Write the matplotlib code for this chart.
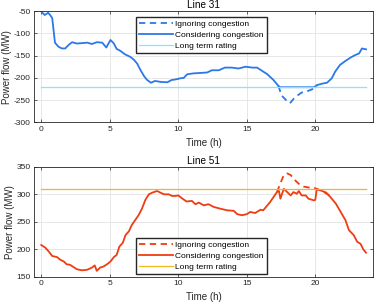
import matplotlib
matplotlib.use("Agg")
import matplotlib.pyplot as plt

plt.rcParams['font.family'] = ['Liberation Sans', 'DejaVu Sans']
plt.rcParams['axes.unicode_minus'] = False

# Line 31 (MW)
t31 = [0, 0.25, 0.5, 0.65, 0.8, 1.0, 1.25, 1.5, 1.75, 2.0, 2.25, 2.6, 3.0, 3.35, 3.7,
       4.05, 4.45, 4.75, 4.85, 5.05, 5.3, 5.5, 5.75, 6.1, 6.5, 6.75, 7.0, 7.25, 7.5, 7.7,
       8.0, 8.3, 8.7, 9.2, 9.5, 9.9, 10.15, 10.4, 10.65, 11.1, 11.6, 12.1, 12.45, 12.95, 13.4,
       13.9, 14.4, 14.9, 15.4, 15.75, 16.1, 16.5, 16.95, 17.3, 17.45, 19.9, 20.15, 20.5, 20.85, 21.2,
       21.45, 21.8, 22.2, 22.6, 22.9, 23.2, 23.4, 23.7]
cons31 = [-51, -59, -54, -59, -66, -121, -130, -134, -134, -126, -120, -123, -122, -121, -124,
          -120, -121, -132, -126, -115, -123, -135, -139, -147, -153, -159, -168, -183, -196, -204,
          -211, -207, -209, -210, -205, -203, -201, -200, -192, -190, -189, -188, -183, -183, -177,
          -177, -179, -175, -177, -177, -184, -192, -205, -218, -221, -221, -216, -213, -211, -201,
          -186, -171, -162, -154, -149, -145, -134, -136]
t31_ign = [17.3, 17.55, 17.9, 18.15, 18.5, 19.0, 19.5, 19.9, 20.15]
ign31 = [-218, -240, -251, -257, -244, -233, -229, -224, -216]
rating31 = -220

# Line 51 (MW)
t51 = [0, 0.3, 0.55, 0.8, 1.15, 1.4, 1.65, 1.85, 2.1, 2.35, 2.6, 2.95, 3.35, 3.7, 3.9,
       4.05, 4.3, 4.55, 4.8, 5.05, 5.3, 5.5, 5.7, 5.95, 6.15, 6.4, 6.6, 6.85, 7.1, 7.35,
       7.6, 7.85, 8.1, 8.45, 8.7, 8.95, 9.3, 9.55, 9.8, 10.0, 10.25, 10.6, 11.0, 11.25, 11.5,
       11.85, 12.2, 12.6, 13.05, 13.55, 14.05, 14.3, 14.65, 15.0, 15.25, 15.6, 16.0, 16.2, 16.5, 16.7,
       16.95, 17.2, 17.35, 17.45, 17.7, 17.95, 18.2, 18.4, 18.65, 18.8, 19.0, 19.3, 19.5, 19.9, 20.0,
       20.1, 20.4, 20.8, 21.1, 21.5, 21.85, 22.2, 22.45, 22.8, 23.05, 23.3, 23.5, 23.7]
cons51 = [208, 203, 196, 188, 186, 181, 178, 173, 172, 168, 164, 162, 163, 167, 171,
          161, 167, 169, 173, 178, 186, 190, 205, 212, 226, 233, 244, 253, 262, 274,
          290, 300, 303, 306, 303, 300, 300, 297, 297, 298, 293, 287, 288, 282, 285,
          280, 282, 277, 274, 271, 270, 264, 262, 264, 268, 266, 272, 271, 280, 286,
          295, 304, 306, 292, 310, 304, 298, 304, 301, 306, 298, 298, 292, 289, 290,
          309, 307, 303, 295, 283, 268, 253, 235, 226, 214, 210, 200, 194]
t51_ign = [17.2, 17.45, 17.7, 17.95, 18.2, 18.5, 18.8, 19.15, 19.6, 20.0, 20.5, 20.9, 21.2]
ign51 = [304, 320, 335, 338, 335, 326, 319, 314, 312, 311, 306, 300, 294]
rating51 = 310

labels = ['Ignoring congestion', 'Considering congestion', 'Long term rating']
edge = '#262626'


def style(ax, ylim, yticks):
    ax.set_xlim(-0.5, 24.2)
    ax.set_ylim(*ylim)
    ax.set_xticks([0, 5, 10, 15, 20])
    ax.set_yticks(yticks)
    ax.grid(True, color='#e3e3e3', lw=0.6)
    ax.set_axisbelow(True)
    ax.tick_params(direction='in', top=True, right=True, length=2.5, width=0.5,
                   labelsize=6, colors=edge, pad=2.5)
    for s in ax.spines.values():
        s.set_color(edge)
        s.set_linewidth(0.6)
    ax.set_xlabel('Time (h)', fontsize=7, color=edge, labelpad=3.5)
    ax.set_ylabel('Power flow (MW)', fontsize=7, color=edge, labelpad=1.5)


def add_legend(ax, top_px):
    ax.legend(labels, fontsize=6, loc='upper left',
              bbox_to_anchor=(136 / 374, 1 - top_px / 306),
              bbox_transform=fig.transFigure, fancybox=False, edgecolor=edge,
              framealpha=1, handlelength=4.0, handletextpad=0.3,
              labelspacing=0.35, borderpad=0.4, borderaxespad=0)


fig = plt.figure(figsize=(3.74, 3.06), dpi=100)
ax1 = fig.add_axes([0.092, 0.600, 0.905, 0.364])
ax2 = fig.add_axes([0.092, 0.095, 0.905, 0.360])

blue = '#2b78e8'
ax1.plot(t31_ign, ign31, '--', color=blue, lw=1.3, dashes=(3.5, 2.5))
ax1.plot(t31, cons31, '-', color=blue, lw=1.3)
ax1.plot([t31[0], t31[-1]], [rating31, rating31], color='#7fe9ff', lw=0.9)
style(ax1, (-300, -50), [-300, -250, -200, -150, -100, -50])
ax1.set_title('Line 31', fontsize=7.2, pad=2, color='black')
add_legend(ax1, 17)

red = '#ee3d12'
ax2.plot(t51_ign, ign51, '--', color=red, lw=1.3, dashes=(3.5, 2.5))
ax2.plot(t51, cons51, '-', color=red, lw=1.3)
ax2.plot([t51[0], t51[-1]], [rating51, rating51], color='#f2b61e', lw=0.9)
style(ax2, (150, 350), [150, 200, 250, 300, 350])
ax2.set_title('Line 51', fontsize=7.2, pad=2, color='black')
add_legend(ax2, 238)

fig.savefig('out.png', dpi=100)
